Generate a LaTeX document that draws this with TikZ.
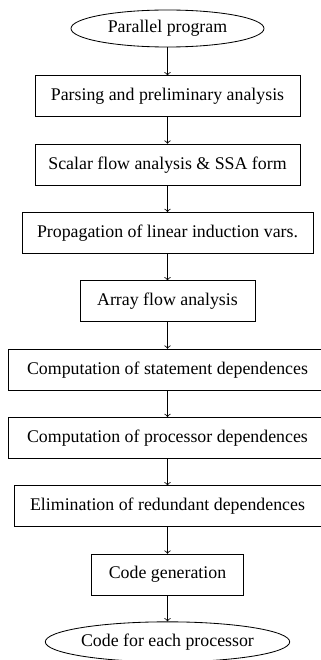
\documentclass[tikz,border=0pt]{standalone}
\usepackage{fontspec}
\setmainfont{Liberation Serif}
\usetikzlibrary{positioning,shapes.geometric}

\begin{document}
\begin{tikzpicture}[line width=0.5pt,node distance=15.9pt,
  stage/.style={shape=rectangle,draw,minimum height=24.6pt,inner xsep=2pt,
    node font={\fontsize{10.7}{13}\selectfont}},
  term/.style={shape=ellipse,draw,minimum height=22.2pt,inner sep=0pt,
    node font={\fontsize{10.7}{13}\selectfont}}]
\useasboundingbox (0,0) rectangle (192.6pt,-396pt);

\node[term,minimum width=115.8pt] (P) at (100.5pt,-17.1pt){Parallel program};

\node[stage,minimum width=159pt,below=16.8pt of P] (a){Parsing and preliminary analysis};
\node[stage,minimum width=159pt,below=of a] (b){Scalar flow analysis \& SSA form};
\node[stage,minimum width=174.6pt,below=of b] (c){Propagation of linear induction vars.};
\node[stage,minimum width=105pt,below=of c] (d){Array flow analysis};
\node[stage,minimum width=191.4pt,below=of d] (e){Computation of statement dependences};
\node[stage,minimum width=191.4pt,below=of e] (f){Computation of processor dependences};
\node[stage,minimum width=184.2pt,below=of f] (g){Elimination of redundant dependences};
\node[stage,minimum width=91.2pt,below=of g] (h){Code generation};

\node[term,minimum width=141pt,minimum height=24pt,below=15.5pt of h] (Q){Code for each processor};

\draw[->] (P) -- (a);
\draw[->] (a) -- (b);
\draw[->] (b) -- (c);
\draw[->] (c) -- (d);
\draw[->] (d) -- (e);
\draw[->] (e) -- (f);
\draw[->] (f) -- (g);
\draw[->] (g) -- (h);
\draw[->] (h) -- (Q);
\end{tikzpicture}
\end{document}
